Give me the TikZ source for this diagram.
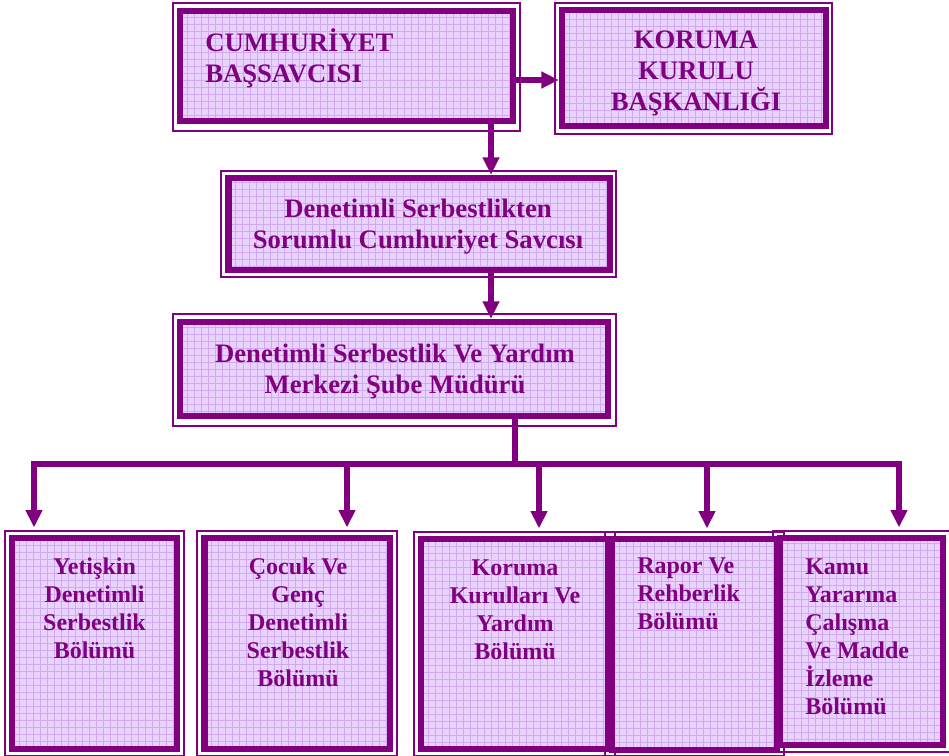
\documentclass[tikz,border=0pt]{standalone}
\usepackage{fontspec}
\setmainfont{Liberation Serif}
\usetikzlibrary{arrows.meta,fit,calc}
\definecolor{pur}{HTML}{800080}
\definecolor{lav}{HTML}{E9D3FD}
\definecolor{lavgrid}{HTML}{CFAAF0}
\begin{document}
\begin{tikzpicture}[x=0.75pt,y=-0.75pt,
  unitbox/.style={rectangle, inner sep=0pt, fill=lav, draw=pur, line width=4.9pt,
    path picture={\draw[lavgrid, line width=0.4pt, step=5.25pt]
      (path picture bounding box.south west) grid (path picture bounding box.north east);}},
  rim/.style={draw=pur, line width=0.9pt},
  conn/.style={draw=pur, line width=4.4pt, -{Triangle[length=13pt,width=12pt]}},
  bar/.style={draw=pur, line width=4.4pt, line cap=rect},
  toptext/.style={text=pur, font=\fontsize{20}{23.5}\selectfont\bfseries, inner sep=0pt, anchor=north},
  subtext/.style={text=pur, font=\fontsize{18}{21}\selectfont\bfseries, inner sep=0pt, anchor=north},
]
\useasboundingbox (0,0) rectangle (949,756);

% thin outer rims of the double frames
\draw[rim] (173,3) rectangle (520,131);
\draw[rim] (555,3) rectangle (832,134);
\draw[rim] (221,171) rectangle (616,277);
\draw[rim] (173,314) rectangle (616,426);
\draw[rim] (5,531) rectangle (184,756);
\draw[rim] (197,531) rectangle (397,756);
\draw[rim] (414,532) rectangle (615,756);
\draw[rim] (605,532) rectangle (784,756);
\draw[rim] (773,531) rectangle (950,752);

% framed units
\node[unitbox, fit={(180,11) (513,121)}] (A) {};
\node[unitbox, fit={(562,10) (826,126)}] (B) {};
\node[unitbox, fit={(228.5,178) (610,270)}] (C) {};
\node[unitbox, fit={(180,322) (608,416)}] (D) {};
\node[unitbox, fit={(12,538) (177,749)}] (E) {};
\node[unitbox, fit={(204.5,538) (390,749)}] (F) {};
\node[unitbox, fit={(421,539) (608,749)}] (G) {};
\node[unitbox, fit={(612,539) (777,750)}] (H) {};
\node[unitbox, fit={(780,538) (943,745)}] (I) {};

% labels
\node[toptext, anchor=north west, align=left] (tA) at (205,28.3) {\rule{0pt}{15.5pt}CUMHURİYET\\BAŞSAVCISI};
\node[toptext, align=center] (tB) at (696,27.3) {\rule{0pt}{15.5pt}KORUMA\\KURULU\\BAŞKANLIĞI};
\node[toptext, align=center] (tC) at (418,196.3) {\rule{0pt}{15.5pt}Denetimli Serbestlikten\\Sorumlu Cumhuriyet Savcısı};
\node[toptext, align=center] (tD) at (395,341.3) {\rule{0pt}{15.5pt}Denetimli Serbestlik Ve Yardım\\Merkezi Şube Müdürü};
\node[subtext, align=center] (tE) at (94.5,555.3) {\rule{0pt}{14pt}Yetişkin\\Denetimli\\Serbestlik\\Bölümü};
\node[subtext, align=center] (tF) at (298,555.3) {\rule{0pt}{14pt}Çocuk Ve\\Genç\\Denetimli\\Serbestlik\\Bölümü};
\node[subtext, align=center] (tG) at (515,556.5) {\rule{0pt}{14pt}Koruma\\Kurulları Ve\\Yardım\\Bölümü};
\node[subtext, anchor=north west, align=left] (tH) at (637,554.3) {\rule{0pt}{14pt}Rapor Ve\\Rehberlik\\Bölümü};
\node[subtext, anchor=north west, align=left] (tI) at (805,555.3) {\rule{0pt}{14pt}Kamu\\Yararına\\Çalışma\\Ve Madde\\İzleme\\Bölümü};

% connectors
\coordinate (ab) at (0,80);
\coordinate (spine) at (491,0);
\coordinate (hub) at (515,464);
\coordinate (d1) at (34,464);
\coordinate (d2) at (347,464);
\coordinate (d3) at (539,464);
\coordinate (d4) at (707,464);
\coordinate (d5) at (899,464);

\draw[conn] (A.east |- ab) -- (B.west |- ab);
\draw[conn] (A.south -| spine) -- (C.north -| spine);
\draw[conn] (C.south -| spine) -- (D.north -| spine);
\draw[bar] (D.south -| hub) -- (hub);
\draw[bar] (d1) -- (d5);
\draw[conn, shorten >=5.5pt] (d1) -- (d1 |- E.north);
\draw[conn, shorten >=5.5pt] (d2) -- (d2 |- F.north);
\draw[conn, shorten >=5.5pt] (d3) -- (d3 |- G.north);
\draw[conn, shorten >=5.5pt] (d4) -- (d4 |- H.north);
\draw[conn, shorten >=5.5pt] (d5) -- (d5 |- I.north);
\end{tikzpicture}
\end{document}
